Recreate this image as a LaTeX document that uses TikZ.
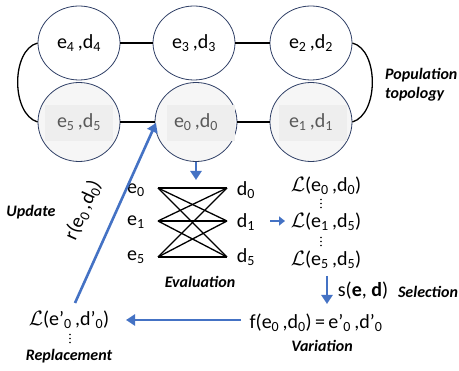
\documentclass[tikz,border=0pt]{standalone}
\usepackage{fontspec}
\setmainfont{Carlito}
\usetikzlibrary{shapes.geometric,arrows.meta}
\definecolor{oblue}{HTML}{4472C4}
\definecolor{navy}{HTML}{2F3F66}
\newcommand{\sbs}[1]{\textsubscript{#1}}
\tikzset{
  pop/.style={draw=navy, line width=0.8pt, ellipse, minimum width=82pt, minimum height=74pt, inner sep=0pt, font=\fontsize{20}{24}\selectfont},
  popg/.style={pop, fill=gray!7, minimum height=79pt, text=black!65},
  txt/.style={inner sep=0pt, font=\fontsize{20}{24}\selectfont},
  lbl/.style={inner sep=0pt, font=\fontsize{16}{19}\selectfont\bfseries\itshape},
  link/.style={line width=1.3pt, black},
  barrow/.style={line width=2.6pt, oblue, -{Triangle[length=9pt,width=11pt]}},
  vdot/.style={fill=black, circle, inner sep=0pt, minimum size=1.6pt},
}
\begin{document}
\begin{tikzpicture}[x=1pt,y=-1pt]
\useasboundingbox (0,0) rectangle (459,371);
% population
\node[pop] (t4) at (79,43) {e\sbs{4}\,,d\sbs{4}};
\node[pop] (t3) at (194,43) {e\sbs{3}\,,d\sbs{3}};
\node[pop] (t2) at (311,43) {e\sbs{2}\,,d\sbs{2}};
\node[popg] (b5) at (79,122) {};
\node[popg] (b0) at (196,122) {};
\node[popg] (b1) at (311,122) {};
\fill[gray!13] (45,105) rectangle (113,141);
\fill[gray!13] (167,105) rectangle (235,141);
\fill[gray!13] (279,105) rectangle (347,141);
\node[txt, text=black!65] at (b5) {e\sbs{5}\,,d\sbs{5}};
\node[txt, text=black!65] at (b0) {e\sbs{0}\,,d\sbs{0}};
\node[txt, text=black!65] at (b1) {e\sbs{1}\,,d\sbs{1}};
\draw[link] (t4.east) -- (t3.west);
\draw[link] (t3.east) -- (t2.west);
\draw[link] (b5.east) -- (b0.west);
\draw[link] (b0.east) -- (b1.west);
\draw[link] (t4.west) .. controls (11,50) and (11,114) .. (b5.west);
\draw[link] (t2.east) .. controls (379,50) and (379,114) .. (b1.east);
\node[lbl, anchor=west] (poplbl) at (385,75) {Population};
\node[lbl, anchor=west] (toplbl) at (385,94) {topology};
% evaluation
\coordinate (ev) at (196,180);
\draw[barrow] (b0.south) -- (ev);
\node[txt] (e0) at (136,190) {e\sbs{0}};
\node[txt] (e1) at (136,222) {e\sbs{1}};
\node[txt] (e5) at (136,257) {e\sbs{5}};
\node[txt] (d0) at (246,190) {d\sbs{0}};
\node[txt] (d1) at (246,222) {d\sbs{1}};
\node[txt] (d5) at (246,257) {d\sbs{5}};
\coordinate (l0) at (158,188);
\coordinate (l1) at (158,221);
\coordinate (l5) at (158,257);
\coordinate (r0) at (227,188);
\coordinate (r1) at (227,221);
\coordinate (r5) at (227,257);
\foreach \a in {l0,l1,l5}{\foreach \b in {r0,r1,r5}{\draw[link] (\a) -- (\b);}}
\node[lbl] (evl) at (200,282) {Evaluation};
% losses
\node[txt] (L0) at (326,186) {$\mathcal{L}$(e\sbs{0}\,,d\sbs{0})};
\node[txt] (L1) at (326,222) {$\mathcal{L}$(e\sbs{1}\,,d\sbs{5})};
\node[txt] (L5) at (326,260) {$\mathcal{L}$(e\sbs{5}\,,d\sbs{5})};
\foreach \yy in {199.5,203.5,207.5,237.5,241.5,245.5}{\node[vdot] at (321,\yy) {};}
\coordinate (sa) at (270,221);
\coordinate (sb) at (285,221);
\draw[line width=2.4pt, oblue, -{Triangle[length=6pt,width=9pt]}] (sa) -- (sb);
% selection
\coordinate (s1) at (327,276);
\coordinate (s2) at (327,304);
\draw[barrow] (s1) -- (s2);
\node[txt] (sel) at (363,291) {s(\textbf{e}, \textbf{d})};
\node[lbl] (sell) at (428,292) {Selection};
% variation
\node[txt] (var) at (316,323) {f(e\sbs{0}\,,d\sbs{0})\,=\,e’\sbs{0}\,,d’\sbs{0}};
\node[lbl] (varl) at (322,346) {Variation};
\coordinate (va) at (241,320);
\coordinate (vb) at (126,320);
\draw[barrow] (va) -- (vb);
% replacement
\node[txt] (rep) at (69,320) {$\mathcal{L}$(e’\sbs{0}\,,d’\sbs{0})};
\foreach \yy in {334.5,338.5,342.5}{\node[vdot] at (70,\yy) {};}
\node[lbl] (repl) at (69,356) {Replacement};
% update
\coordinate (ua) at (75,303);
\coordinate (ub) at (156,123);
\draw[barrow] (ua) -- (ub);
\node[txt, rotate=65.8] (rl) at (83,210) {r(e\sbs{0}\,,d\sbs{0})};
\node[lbl] (upd) at (31,212) {Update};
\end{tikzpicture}
\end{document}
